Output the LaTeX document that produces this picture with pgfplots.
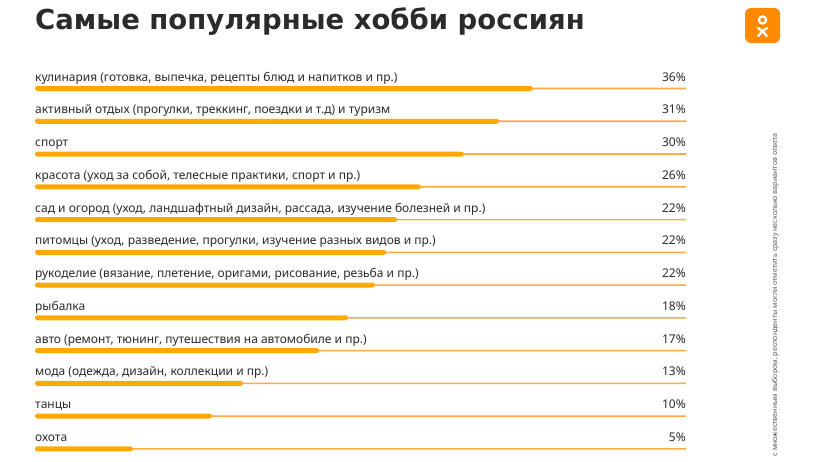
\documentclass[border=0pt]{standalone}
\usepackage{fontspec}
\setmainfont{Noto Sans}
\newfontfamily\titlefont{DejaVu Sans}
\usepackage{pgfplots}
\usepackage{pgfplotstable}
\pgfplotsset{compat=1.18}

\definecolor{barcol}{HTML}{FFA800}
\definecolor{trackcol}{HTML}{FFAA45}
\definecolor{txt}{HTML}{2B2B2E}
\definecolor{okcol}{HTML}{FF8A00}

% len = drawn bar length (px of the 651 px track), pct = printed value
\pgfplotstableread[col sep=semicolon,row sep=\\]{
label;len;pct\\
кулинария (готовка, выпечка, рецепты блюд и напитков и пр.);498;36\\
активный отдых (прогулки, треккинг, поездки и т.д) и туризм;464;31\\
спорт;429;30\\
красота (уход за собой, телесные практики, спорт и пр.);386;26\\
сад и огород (уход, ландшафтный дизайн, рассада, изучение болезней и пр.);362;22\\
питомцы (уход, разведение, прогулки, изучение разных видов и пр.);351;22\\
рукоделие (вязание, плетение, оригами, рисование, резьба и пр.);340;22\\
рыбалка;313;18\\
авто (ремонт, тюнинг, путешествия на автомобиле и пр.);284;17\\
мода (одежда, дизайн, коллекции и пр.);208;13\\
танцы;177;10\\
охота;98;5\\
}\hobbies

\begin{document}
\begin{tikzpicture}[x=1pt,y=1pt]
\fill[white] (0,0) rectangle (820,461);
\useasboundingbox (0,0) rectangle (820,461);

\node[anchor=base west, inner sep=0pt, text=txt,
  font=\titlefont\bfseries\fontsize{27.5}{32}\selectfont] at (35,431) {Самые популярные хобби россиян};

% OK logo
\fill[okcol, rounded corners=6pt] (745,418) rectangle (780,453);
\draw[white, line width=2.3pt] (762.5,441) circle (3.6);
\draw[white, line width=2.3pt, line cap=round, line join=round]
  (757.8,433) -- (762.5,430) -- (767.2,433);
\draw[white, line width=2.3pt, line cap=round]
  (762.5,430) -- (758.3,425);
\draw[white, line width=2.3pt, line cap=round]
  (762.5,430) -- (766.7,425);

\node[rotate=90, anchor=base east, inner sep=0pt, text=black!65,
  font=\fontsize{7.1}{8}\selectfont] at (777,328)
  {с множественным выбором, респонденты могли отметить сразу несколько вариантов ответа};

\begin{axis}[
  at={(35pt,372.5pt)}, anchor=north west,
  scale only axis, width=651pt, height=360.4pt,
  xmin=0, xmax=651, ymin=0, ymax=11, y dir=reverse,
  clip=false,
  axis line style={draw=none},
  xtick=\empty,
  ytick={0,...,11},
  yticklabels from table={\hobbies}{label},
  major tick length=0pt,
  yticklabel style={anchor=base west, inner sep=0pt, yshift=7.5pt,
    font=\fontsize{12}{14}\selectfont, text=txt},
]
\addplot[xbar, bar shift=0pt, bar width=1.6pt, fill=trackcol, draw=none,
  point meta=\thisrow{pct},
  nodes near coords={\pgfmathprintnumber[fixed,precision=0,assume math mode=true]{\pgfplotspointmeta}\%},
  every node near coord/.style={anchor=base east, inner sep=0pt, yshift=7.5pt,
    font=\fontsize{12}{14}\selectfont, text=txt}]
  table[x expr=651, y expr=\coordindex] {\hobbies};
\addplot[xbar, bar shift=0pt, bar width=5pt, fill=barcol, draw=none,
  rounded corners=2.5pt]
  table[x=len, y expr=\coordindex] {\hobbies};
\end{axis}
\end{tikzpicture}
\end{document}
